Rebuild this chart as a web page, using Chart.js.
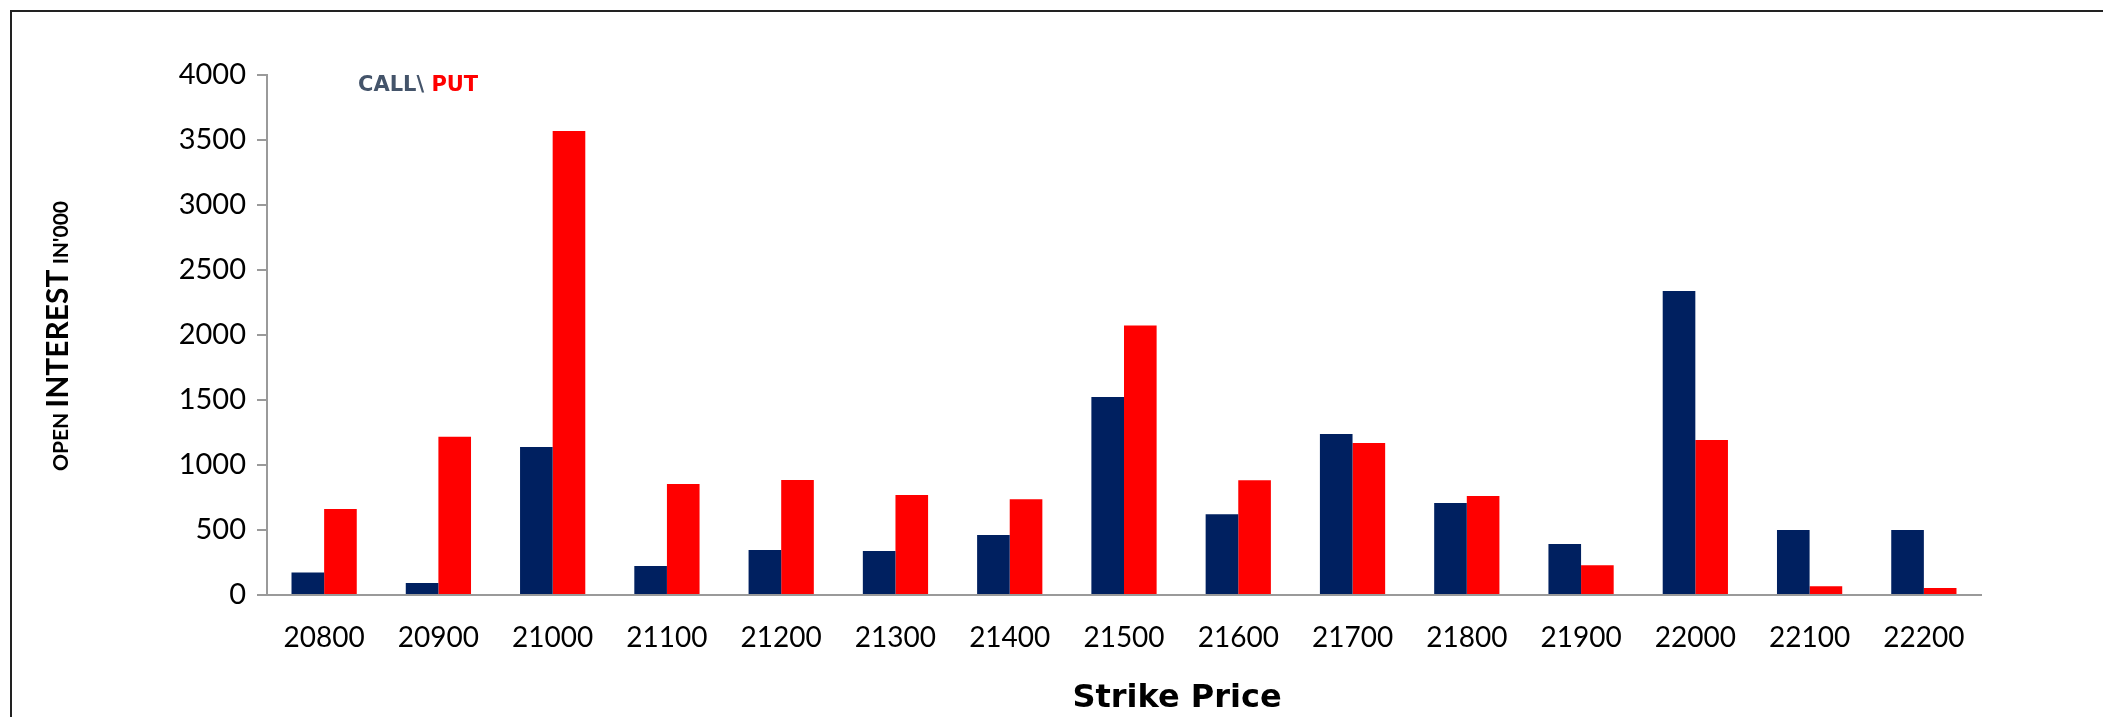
<!DOCTYPE html>
<html>
<head>
<meta charset="utf-8">
<script src="https://cdn.jsdelivr.net/npm/chart.js@4"></script>
<style>
  html, body { margin: 0; padding: 0; background: #fff; }
  #wrap { width: 2103px; height: 717px; }
</style>
</head>
<body>
<div id="wrap"><canvas id="oiChart" width="2103" height="717"></canvas></div>
<script>
const strikes = ['20800', '20900', '21000', '21100', '21200', '21300', '21400', '21500',
  '21600', '21700', '21800', '21900', '22000', '22100', '22200'];
const callOI = [174, 92, 1138, 223, 346, 338, 462, 1523, 621, 1238, 708, 392, 2338, 500, 500];
const putOI = [662, 1218, 3569, 854, 885, 769, 736, 2074, 882, 1169, 762, 228, 1192, 67, 54];
const yTicks = [0, 500, 1000, 1500, 2000, 2500, 3000, 3500, 4000];

// frame, legend text and axis titles drawn by hand
const decorations = {
  id: 'decorations',
  beforeDraw(chart) {
    const ctx = chart.ctx;
    ctx.save();
    ctx.strokeStyle = '#222';
    ctx.lineWidth = 2;
    ctx.beginPath();
    ctx.moveTo(11, 717);
    ctx.lineTo(11, 11);
    ctx.lineTo(2103, 11);
    ctx.stroke();
    ctx.restore();
  },
  afterDraw(chart) {
    const ctx = chart.ctx;
    ctx.save();

    // "CALL\ PUT"
    ctx.textBaseline = 'alphabetic';
    ctx.font = 'bold 21px "DejaVu Sans"';
    ctx.fillStyle = '#44546A';
    ctx.fillText('CALL\\ ', 358, 91);
    const w = ctx.measureText('CALL\\ ').width;
    ctx.fillStyle = '#FF0000';
    ctx.fillText('PUT', 358 + w, 91);

    // x title
    ctx.font = 'bold 32px "DejaVu Sans"';
    ctx.fillStyle = '#000';
    ctx.textAlign = 'center';
    ctx.textBaseline = 'middle';
    ctx.fillText('Strike Price', 1177, 699);

    // y title, mixed sizes
    ctx.textAlign = 'left';
    ctx.textBaseline = 'alphabetic';
    const parts = [['OPEN ', 'bold 21px Lato'], ['INTEREST', 'bold 30px Lato'], [" IN'000", 'bold 21px Lato']];
    let total = 0;
    parts.forEach(p => { ctx.font = p[1]; total += ctx.measureText(p[0]).width; });
    ctx.translate(68, 336);
    ctx.rotate(-Math.PI / 2);
    let x = -total / 2;
    parts.forEach(p => {
      ctx.font = p[1];
      ctx.fillText(p[0], x, 0);
      x += ctx.measureText(p[0]).width;
    });
    ctx.restore();
  }
};

new Chart(document.getElementById('oiChart'), {
  type: 'bar',
  data: {
    labels: strikes,
    datasets: [
      { label: 'CALL', data: callOI, backgroundColor: '#002060' },
      { label: 'PUT', data: putOI, backgroundColor: '#FF0000' }
    ]
  },
  options: {
    responsive: false,
    animation: false,
    layout: { padding: { top: 75, right: 122, left: 0, bottom: 0 } },
    datasets: { bar: { categoryPercentage: 0.571, barPercentage: 1.0 } },
    plugins: {
      legend: { display: false },
      tooltip: { enabled: false }
    },
    scales: {
      x: {
        grid: { display: false },
        border: { display: true, color: '#9a9a9a', width: 2 },
        ticks: { color: '#000', font: { family: 'Lato', size: 28 }, padding: 18, maxRotation: 0 },
        afterFit(scale) { scale.height = 122; }
      },
      y: {
        min: 0,
        max: 4000,
        afterBuildTicks(scale) { scale.ticks = yTicks.map(v => ({ value: v })); },
        grid: { drawOnChartArea: false, drawTicks: true, tickLength: 10, color: '#9a9a9a', lineWidth: 2 },
        border: { display: true, color: '#9a9a9a', width: 2 },
        ticks: {
          color: '#000',
          font: { family: 'Lato', size: 29 },
          padding: 11,
          callback: v => String(v)
        },
        afterFit(scale) { scale.width = 267; }
      }
    }
  },
  plugins: [decorations]
});
</script>
</body>
</html>
